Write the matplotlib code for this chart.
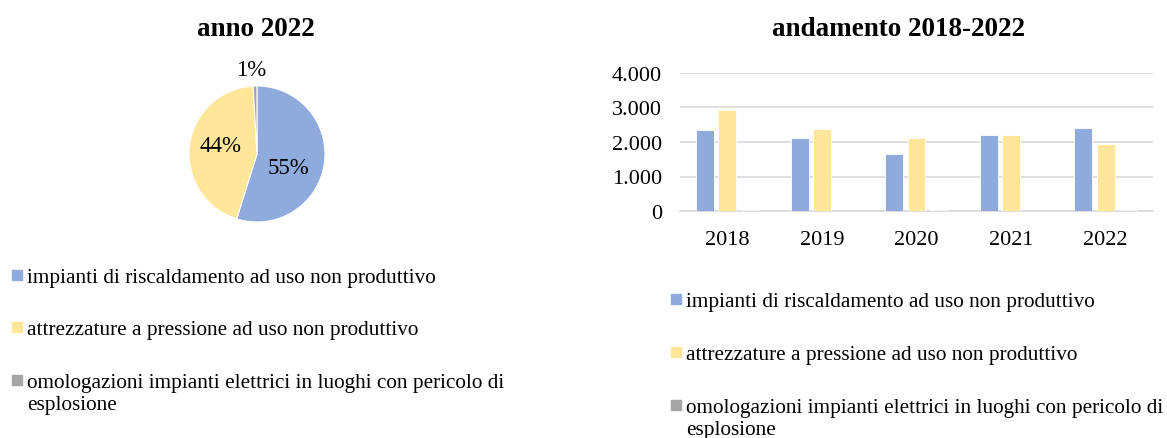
import numpy as np
import matplotlib
matplotlib.use("Agg")
import matplotlib.pyplot as plt
from matplotlib.patches import Rectangle

plt.rcParams["font.family"] = ["Liberation Serif", "DejaVu Serif"]

years = ["2018", "2019", "2020", "2021", "2022"]
series = [
    "impianti di riscaldamento ad uso non produttivo",
    "attrezzature a pressione ad uso non produttivo",
    "omologazioni impianti elettrici in luoghi con pericolo di\nesplosione",
]
riscaldamento = [2350, 2110, 1665, 2215, 2410]
pressione = [2930, 2390, 2130, 2205, 1945]
omologazioni = [25, 5, 25, 5, 40]
colors = ["#8FAADC", "#FFE699", "#A5A5A5"]

W, H = 1167, 439
fig = plt.figure(figsize=(W / 100, H / 100), dpi=100)

def fx(px):
    return px / W

def fy(py):
    return 1 - py / H

# ---- pie (anno 2022)
pie_vals = [riscaldamento[-1], pressione[-1], omologazioni[-1]]
cx, cy, r = 257, 155, 68
axp = fig.add_axes([fx(cx - r), fy(cy + r), 2 * r / W, 2 * r / H])
axp.pie(pie_vals, colors=colors, startangle=90, counterclock=False,
        wedgeprops=dict(edgecolor="white", linewidth=0.8))
axp.set_xlim(-1, 1)
axp.set_ylim(-1, 1)
axp.set_aspect("auto")
pct = np.array(pie_vals) / sum(pie_vals) * 100
label_pos = [(0.46, -0.2), (-0.54, 0.12), (-0.09, 1.24)]
for p, (x, y) in zip(pct, label_pos):
    axp.text(x, y, f"{p:.0f}%", ha="center", va="center", fontsize=16.5, clip_on=False)
fig.text(fx(256), fy(29), "anno 2022", ha="center", va="center",
         fontsize=19.5, fontweight="bold")

# ---- bars (andamento 2018-2022)
ax = fig.add_axes([fx(680), fy(212), fx(1153 - 680), (212 - 74) / H])
x = np.arange(len(years))
w, off = 0.19, 0.235
for i, vals in enumerate([riscaldamento, pressione, omologazioni]):
    ax.bar(x + (i - 1) * off, vals, width=w, color=colors[i],
           edgecolor="white", linewidth=0.6, zorder=3)
ax.set_xlim(-0.5, len(years) - 0.5)
ax.set_ylim(0, 4000)
ax.set_yticks([0, 1000, 2000, 3000, 4000])
ax.set_yticklabels([f"{v:,}".replace(",", ".") for v in [0, 1000, 2000, 3000, 4000]])
ax.set_xticks(x)
ax.set_xticklabels(years)
ax.tick_params(axis="y", length=0, pad=13, labelsize=16)
ax.tick_params(axis="x", length=0, pad=14, labelsize=16)
ax.grid(axis="y", color="#D9D9D9", linewidth=1.2, zorder=0)
for s in ["top", "right", "left"]:
    ax.spines[s].set_visible(False)
ax.spines["bottom"].set_color("#D9D9D9")
ax.spines["bottom"].set_linewidth(1.2)
fig.text(fx(899), fy(29), "andamento 2018-2022", ha="center", va="center",
         fontsize=19.5, fontweight="bold")

# ---- legends
def legend(x0, rows):
    for lab, c, yy in zip(series, colors, rows):
        fig.patches.append(Rectangle((fx(x0), fy(yy + 5)), 10 / W, 10 / H,
                                     transform=fig.transFigure, color=c))
        fig.text(fx(x0 + 15), fy(yy - 7), lab, ha="left", va="top",
                 fontsize=15.3, linespacing=1.2)

legend(12, [276, 328, 381])
legend(671, [300, 353, 406])

fig.savefig("out.png", dpi=100)
